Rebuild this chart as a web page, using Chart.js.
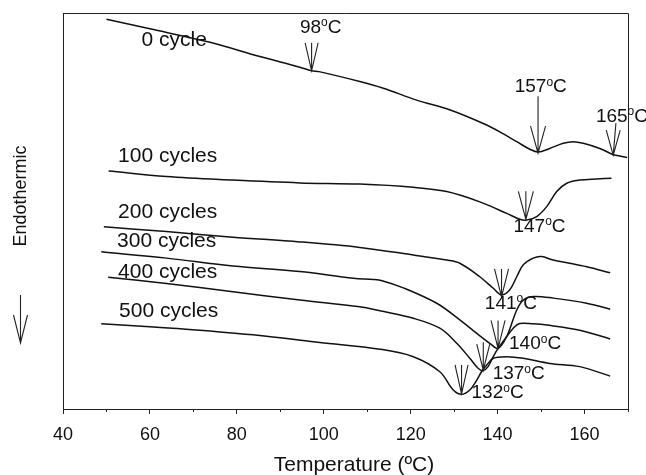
<!DOCTYPE html>
<html><head><meta charset="utf-8">
<script src="https://cdn.jsdelivr.net/npm/chart.js@4/dist/chart.umd.min.js"></script>
<style>html,body{margin:0;padding:0;background:#fff}#wrap{width:646px;height:475px}</style>
</head><body><div id="wrap"><canvas id="c" width="646" height="475"></canvas></div>
<script>
// ---- data (temperature in °C, heat flow in arbitrary units, endothermic down) ----
const seriesNames = ['0 cycle','100 cycles','200 cycles','300 cycles','400 cycles','500 cycles'];

const temp0 = [50.0,60.0,73.8,85.3,94.5,97.2,98.9,108.3,113.7,121.4,129.1,136.7,140.5,144.4,147.4,149.3,152.0,155.1,157.4,159.7,163.5,166.6,167.5,169.8];
const hf0   = [98.4,96.0,92.6,89.0,86.3,85.4,85.2,82.7,81.0,78.0,75.5,72.1,70.0,67.5,65.6,64.9,65.8,67.1,67.5,67.1,65.8,64.2,64.0,63.5];

const temp100 = [50.5,63.8,79.1,94.5,108.3,120.6,128.3,135.9,142.1,145.1,146.7,149.0,151.3,153.6,155.9,158.9,162.8,166.2];
const hf100   = [60.1,58.7,57.8,57.1,56.8,56.0,54.9,52.3,49.4,47.9,47.7,48.6,51.1,54.9,57.0,57.8,58.1,58.3];

const temp200 = [49.4,63.8,79.1,94.5,108.3,120.6,128.3,131.3,135.9,139.0,140.9,142.8,144.4,145.9,148.2,150.1,152.8,156.6,160.5,165.9];
const hf200   = [46.0,44.8,43.4,42.2,40.8,38.9,37.6,36.8,33.4,30.5,28.8,30.1,33.4,36.4,38.1,38.5,37.6,36.8,35.9,34.4];

const temp300 = [48.8,63.8,79.1,94.5,106.8,111.4,113.4,118.3,126.0,131.3,135.2,138.2,140.1,142.1,144.4,145.9,148.2,152.8,160.5,165.9];
const hf300   = [39.7,38.1,36.1,34.7,33.0,32.7,32.4,30.6,26.7,22.5,19.1,16.6,15.3,18.3,25.0,27.5,28.4,28.0,26.7,25.2];

const temp400 = [50.4,63.8,79.1,94.5,108.3,112.9,120.6,126.7,130.6,133.6,135.5,136.7,137.8,139.0,140.1,142.1,143.6,145.1,148.2,151.3,158.9,165.9];
const hf400   = [33.3,31.7,29.6,27.5,25.8,24.8,22.9,20.4,16.6,12.8,10.3,9.7,10.7,13.2,15.3,18.3,20.4,21.6,21.5,21.2,19.9,17.7];

const temp500 = [48.8,60.0,71.5,86.8,99.1,112.9,120.6,126.7,129.8,131.7,133.6,135.2,136.3,137.5,139.0,142.1,145.9,152.0,158.9,165.9];
const hf500   = [21.5,20.8,19.9,18.4,16.8,15.1,13.2,9.4,4.8,3.7,4.8,7.3,9.4,11.1,12.8,13.2,12.8,11.5,10.7,8.3];

const peakLabels = ['98','157','165','147','141','140','137','132'];
const peakTemp   = [97.2,149.3,166.6,146.5,140.9,140.1,136.7,131.7];
const peakValue  = [85.4,64.6,64.1,47.9,28.3,15.3,9.8,3.8];

const xMin = 40, xMax = 170, xStep = 10, xLabelStep = 20;
const xTitle = 'Temperature (ºC)';
const yTitle = 'Endothermic';

// ---- build datasets ----
const temps = [temp0,temp100,temp200,temp300,temp400,temp500];
const vals  = [hf0,hf100,hf200,hf300,hf400,hf500];
const datasets = seriesNames.map((n,i)=>({
  label:n,
  data: temps[i].map((t,j)=>({x:t,y:vals[i][j]})),
  borderColor:'#111', borderWidth:1.5, pointRadius:0, tension:0.35, fill:false
}));

// presentation (pixels) for annotations
const curveLabelPos = [[58.05,91.7],[52.66,62.3],[52.66,48.2],[52.43,41.0],[52.66,33.0],[52.9,23.2]];
const arrowStyle = [ // dx,dy of label, shaft len, head len, half width, top tilt
  [-11.7,-38,28,28,6.5,0],
  [-23.3,-61,57,27,7.5,0],
  [-17.3,-33.3,32,25,7,2.7],
  [-12.4,12.4,28,28,7.5,0],
  [-16.7,11.7,28,28,7,0],
  [11,0.7,28,28,7,0],
  [9.4,9.3,28,26,6.5,0],
  [10,4.3,29,29,6.5,0]
];

const FONT = '"Liberation Sans", Arial, Helvetica, sans-serif';

const deco = {
  id:'deco',
  afterDatasetsDraw(chart){
    const ctx = chart.ctx, xs = chart.scales.x, ys = chart.scales.y, a = chart.chartArea;
    ctx.save();
    // frame top/right
    ctx.strokeStyle = '#222'; ctx.lineWidth = 1;
    ctx.beginPath();
    ctx.moveTo(a.left, a.top+0.5); ctx.lineTo(a.right+0.5, a.top+0.5); ctx.lineTo(a.right+0.5, a.bottom);
    ctx.stroke();
    // minor ticks
    ctx.beginPath();
    for(let v=xMin+xStep; v<=xMax; v+=xLabelStep){
      const px = Math.round(xs.getPixelForValue(v))+0.5;
      ctx.moveTo(px, a.bottom); ctx.lineTo(px, a.bottom+3);
    }
    ctx.stroke();
    // curve labels
    ctx.fillStyle = '#111';
    ctx.font = '21px '+FONT; ctx.textAlign='left'; ctx.textBaseline='alphabetic';
    seriesNames.forEach((n,i)=>{
      ctx.fillText(n, xs.getPixelForValue(curveLabelPos[i][0]), ys.getPixelForValue(curveLabelPos[i][1]));
    });
    // peak arrows and labels
    ctx.strokeStyle = '#222'; ctx.lineWidth = 1.1;
    peakLabels.forEach((lab,i)=>{
      const tx = xs.getPixelForValue(peakTemp[i]), ty = ys.getPixelForValue(peakValue[i]);
      const [dx,dy,L,H,W,tilt] = arrowStyle[i];
      ctx.beginPath();
      ctx.moveTo(tx+tilt, ty-L); ctx.lineTo(tx,ty);
      ctx.moveTo(tx-W, ty-H); ctx.lineTo(tx,ty); ctx.lineTo(tx+W, ty-H);
      ctx.stroke();
      let x = tx+dx, y = ty+dy;
      ctx.font = '19px '+FONT; ctx.fillText(lab, x, y); x += ctx.measureText(lab).width;
      ctx.font = '12px '+FONT; ctx.fillText('o', x, y-6.5); x += ctx.measureText('o').width;
      ctx.font = '19px '+FONT; ctx.fillText('C', x, y);
    });
    // y title + arrow
    ctx.save();
    ctx.translate(21,196); ctx.rotate(-Math.PI/2);
    ctx.font = '18px '+FONT; ctx.textAlign='center'; ctx.textBaseline='middle';
    ctx.fillText(yTitle,0,0);
    ctx.restore();
    ctx.beginPath();
    ctx.moveTo(20.5,295); ctx.lineTo(20.5,343);
    ctx.moveTo(13.5,315); ctx.lineTo(20.5,343); ctx.lineTo(27.5,315);
    ctx.stroke();
    // x title
    ctx.font = '21px '+FONT; ctx.textAlign='center'; ctx.textBaseline='alphabetic';
    ctx.fillText(xTitle, 354, 471);
    ctx.restore();
  }
};

new Chart(document.getElementById('c'),{
  type:'line',
  data:{datasets},
  options:{
    responsive:false, animation:false, devicePixelRatio:1,
    layout:{padding:{left:63,top:13,right:18,bottom:0}},
    plugins:{legend:{display:false},tooltip:{enabled:false}},
    scales:{
      x:{type:'linear',min:xMin,max:xMax,
        afterFit(s){s.height=66;},
        border:{display:true,color:'#222',width:1},
        grid:{display:true,drawOnChartArea:false,tickLength:5,
          tickColor:(c)=> (c.tick && c.tick.value % xLabelStep === 0) ? '#222' : 'rgba(0,0,0,0)'},
        ticks:{stepSize:xStep,autoSkip:false,maxRotation:0,padding:10,color:'#111',
          font:{family:FONT,size:18},
          callback:(v)=> v % xLabelStep === 0 ? String(v) : ''}
      },
      y:{type:'linear',min:0,max:100,
        afterFit(s){s.width=0;},
        border:{display:true,color:'#222',width:1},
        grid:{display:false},
        ticks:{display:false}
      }
    }
  },
  plugins:[deco]
});
</script></body></html>
